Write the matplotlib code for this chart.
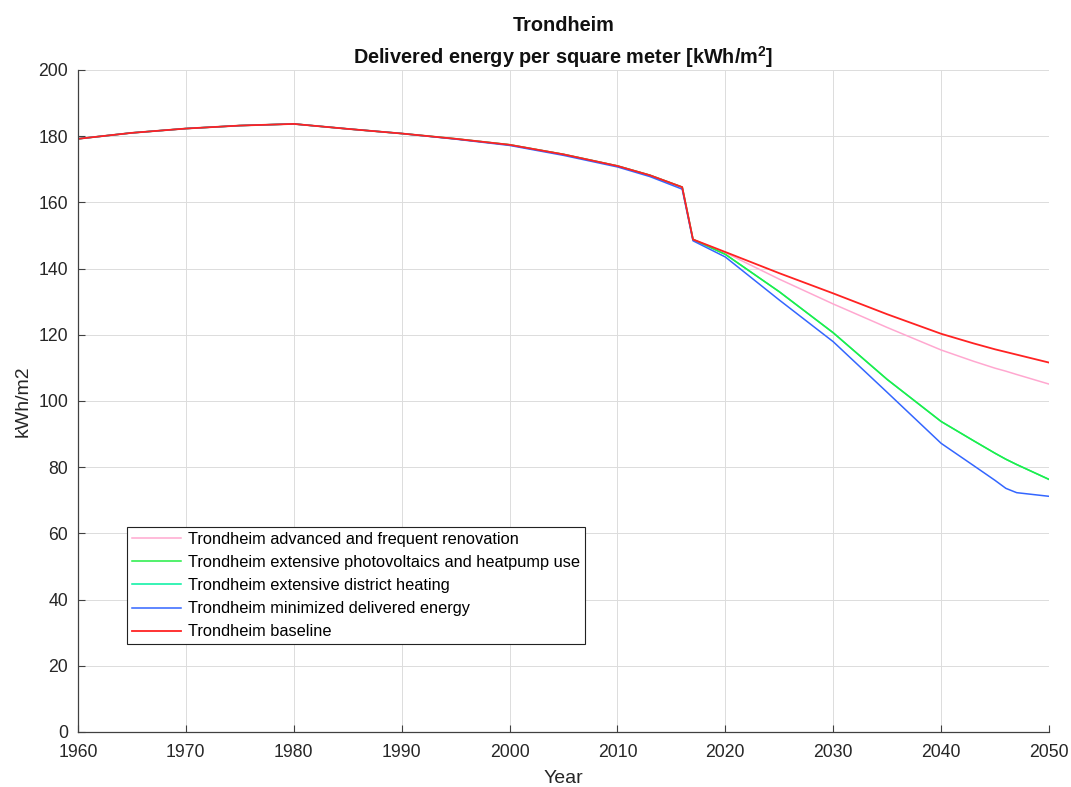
import matplotlib
matplotlib.use('Agg')
import matplotlib.pyplot as plt

# Data (kWh/m2)
years = [1960, 1965, 1970, 1975, 1980, 1985, 1990, 1995, 2000, 2005, 2010, 2013,
         2016, 2017, 2020, 2025, 2030, 2035, 2040, 2043, 2045, 2046, 2047, 2050]

baseline = [179.2, 181.0, 182.3, 183.2, 183.7, 182.2, 180.8, 179.2, 177.4, 174.5, 171.0, 168.2,
            164.6, 148.8, 145.0, 138.6, 132.5, 126.2, 120.3, 117.4, 115.6, 114.8, 114.0, 111.6]
renovation = [179.2, 181.0, 182.3, 183.2, 183.7, 182.2, 180.8, 179.2, 177.4, 174.5, 171.0, 168.2,
              164.6, 148.8, 144.8, 136.8, 129.3, 122.2, 115.4, 112.0, 109.9, 109.0, 108.0, 105.1]
pv_heatpump = [179.2, 181.0, 182.3, 183.2, 183.7, 182.2, 180.8, 179.2, 177.4, 174.5, 171.0, 168.2,
               164.6, 148.8, 144.3, 133.0, 120.6, 106.5, 93.8, 88.0, 84.2, 82.4, 80.8, 76.3]
# district heating curve is not visible in the picture (it sits under the green one)
district_heating = list(pv_heatpump)
min_delivered = [179.2, 181.0, 182.3, 183.2, 183.7, 182.2, 180.8, 179.1, 177.2, 174.2, 170.7, 167.8,
                 164.0, 148.4, 143.5, 130.5, 117.9, 102.6, 87.2, 80.5, 76.0, 73.6, 72.3, 71.2]

series = [
    ('Trondheim advanced and frequent renovation', renovation, '#ffa8d0', 2.2, 1.1),
    ('Trondheim extensive photovoltaics and heatpump use', pv_heatpump, '#22ee44', 2.3, 1.1),
    ('Trondheim extensive district heating', district_heating, '#00f0a0', 2.1, 1.1),
    ('Trondheim minimized delivered energy', min_delivered, '#3366ff', 2.4, 1.1),
    ('Trondheim baseline', baseline, '#ff2222', 2.5, 1.3),
]

plt.rcParams['font.family'] = ['Liberation Sans', 'DejaVu Sans']
plt.rcParams['mathtext.fontset'] = 'custom'
plt.rcParams['mathtext.rm'] = 'Liberation Sans'
plt.rcParams['mathtext.bf'] = 'Liberation Sans:bold'

fig = plt.figure(figsize=(10.71, 7.87), dpi=100)
ax = fig.add_axes([0.0728, 0.0699, 0.9067, 0.8412])

for label, vals, color, z, lw in series:
    ax.plot(years, vals, color=color, linewidth=lw, label=label, zorder=z)

ax.set_xlim(1960, 2050)
ax.set_ylim(0, 200)
ax.set_xticks(range(1960, 2051, 10))
ax.set_yticks(range(0, 201, 20))
ax.grid(True, color='#dcdcdc', linewidth=0.7)
ax.set_axisbelow(True)

for side in ['top', 'right']:
    ax.spines[side].set_visible(False)
for side in ['left', 'bottom']:
    ax.spines[side].set_color('#404040')
    ax.spines[side].set_linewidth(0.9)
ax.tick_params(direction='in', length=5, width=0.8, color='#404040',
               labelsize=12.7, labelcolor='#262626')
ax.tick_params(axis='x', pad=9)
ax.tick_params(axis='y', pad=7)

ax.set_xlabel('Year', fontsize=14, color='#262626', labelpad=6)
ax.set_ylabel('kWh/m2', fontsize=14, color='#262626', labelpad=5)
ax.set_title('Trondheim\nDelivered energy per square meter [kWh/m$^{\\mathbf{2}}$]',
             fontsize=14.3, fontweight='bold', color='#111111', pad=3, linespacing=1.45)

leg = ax.legend(loc='upper left', bbox_to_anchor=(0.0505, 0.31), fontsize=11.8,
                frameon=True, fancybox=False, handlelength=3.0, handletextpad=0.45,
                borderpad=0.3, labelspacing=0.5, borderaxespad=0)
leg.get_frame().set_edgecolor('#222222')
leg.get_frame().set_linewidth(0.8)
leg.get_frame().set_alpha(1)

plt.savefig('out.png', dpi=100)
